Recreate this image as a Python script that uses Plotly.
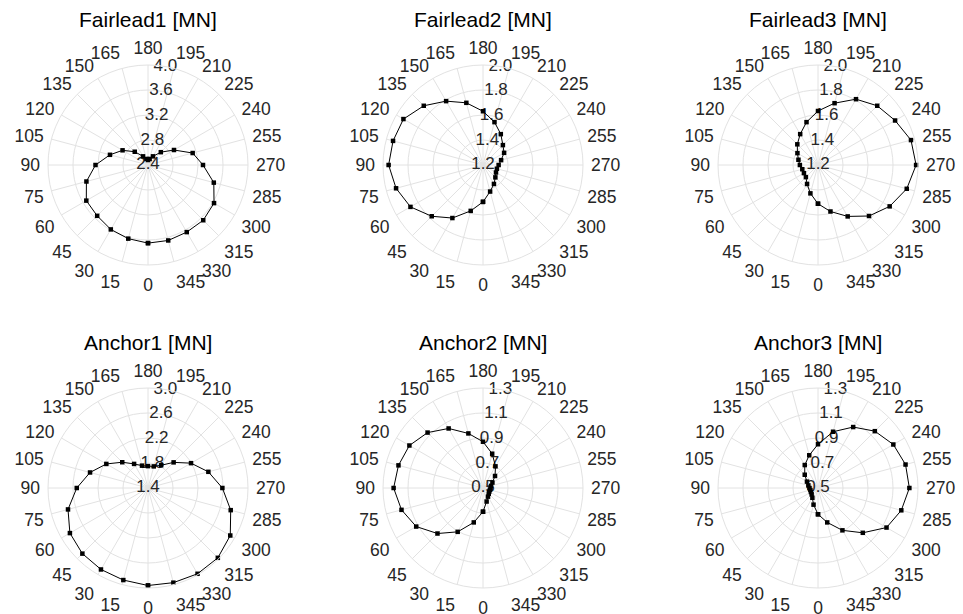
import plotly.graph_objects as go

# Wave heading [deg] at which each tension was evaluated
headings = [0, 15, 30, 45, 60, 75, 90, 105, 120, 135, 150, 165,
            180, 195, 210, 225, 240, 255, 270, 285, 300, 315, 330, 345]

# Maximum line tensions [MN] per heading
fairlead1 = [3.65, 3.62, 3.59, 3.55, 3.54, 3.42, 3.24, 3.03, 2.87, 2.70, 2.56, 2.50,
             2.48, 2.50, 2.56, 2.69, 2.88, 3.14, 3.28, 3.49, 3.62, 3.65, 3.64, 3.65]
fairlead2 = [1.495, 1.58, 1.69, 1.78, 1.87, 1.92, 1.955, 1.945, 1.935, 1.87, 1.79, 1.715,
             1.63, 1.555, 1.485, 1.425, 1.395, 1.35, 1.325, 1.315, 1.32, 1.34, 1.375, 1.42]
fairlead3 = [1.51, 1.435, 1.375, 1.337, 1.33, 1.33, 1.345, 1.362, 1.39, 1.434, 1.485, 1.555,
             1.632, 1.712, 1.808, 1.87, 1.912, 1.97, 1.985, 1.935, 1.862, 1.777, 1.675, 1.585]
anchor1 = [2.96, 2.925, 2.905, 2.885, 2.843, 2.725, 2.54, 2.36, 2.17, 1.983, 1.845, 1.77,
           1.75, 1.758, 1.82, 1.98, 2.195, 2.40, 2.59, 2.77, 2.92, 2.98, 2.985, 2.968]
anchor2 = [0.69, 0.785, 0.905, 1.015, 1.117, 1.175, 1.215, 1.20, 1.18, 1.127, 1.05, 0.952,
           0.87, 0.784, 0.70, 0.636, 0.587, 0.567, 0.56, 0.557, 0.558, 0.565, 0.58, 0.612]
anchor3 = [0.71, 0.638, 0.59, 0.572, 0.565, 0.563, 0.568, 0.58, 0.602, 0.65, 0.712, 0.771,
           0.85, 0.966, 1.063, 1.143, 1.196, 1.225, 1.231, 1.19, 1.133, 1.007, 0.891, 0.785]

# Radial tick values per panel
fairlead1_ticks = [2.4, 2.8, 3.2, 3.6, 4.0]
fairlead2_ticks = [1.2, 1.4, 1.6, 1.8, 2.0]
fairlead3_ticks = [1.2, 1.4, 1.6, 1.8, 2.0]
anchor1_ticks = [1.4, 1.8, 2.2, 2.6, 3.0]
anchor2_ticks = [0.5, 0.7, 0.9, 1.1, 1.3]
anchor3_ticks = [0.5, 0.7, 0.9, 1.1, 1.3]

titles = ["Fairlead1 [MN]", "Fairlead2 [MN]", "Fairlead3 [MN]",
          "Anchor1 [MN]", "Anchor2 [MN]", "Anchor3 [MN]"]

panels = [
    (fairlead1, fairlead1_ticks), (fairlead2, fairlead2_ticks), (fairlead3, fairlead3_ticks),
    (anchor1, anchor1_ticks), (anchor2, anchor2_ticks), (anchor3, anchor3_ticks),
]

W, H = 963, 614
col_centers = [148, 483, 818]
row_centers = [165, 488]
RADIUS = 100
TITLE_OFFSET = 146        # title sits this far above the polar centre
RLABEL_THETA = 190        # direction along which radial labels are written

FONT = "Liberation Sans, Arial, sans-serif"
TEXT_COLOR = "#262626"
GRID_COLOR = "#e2e2e2"

fig = go.Figure()
layout_polars = {}
annotations = []

for i, ((values, rticks), title) in enumerate(zip(panels, titles)):
    row, col = divmod(i, 3)
    cx, cy = col_centers[col], row_centers[row]
    name = "polar" if i == 0 else f"polar{i + 1}"
    subplot = "polar" if i == 0 else f"polar{i + 1}"

    # radial tick labels, written along a fixed heading
    fig.add_trace(go.Scatterpolar(
        r=rticks, theta=[RLABEL_THETA] * len(rticks),
        text=[f"{v:.1f}" for v in rticks], mode="text",
        textposition="middle center",
        textfont=dict(family=FONT, size=17, color=TEXT_COLOR),
        cliponaxis=False, hoverinfo="skip", showlegend=False,
        subplot=subplot,
    ))

    # tension curve, closed back onto the first heading
    fig.add_trace(go.Scatterpolar(
        r=values + values[:1], theta=headings + headings[:1],
        mode="lines+markers",
        line=dict(color="black", width=1),
        marker=dict(symbol="square", size=4.5, color="black"),
        cliponaxis=False, showlegend=False, subplot=subplot,
    ))

    layout_polars[name] = dict(
        domain=dict(
            x=[(cx - RADIUS) / W, (cx + RADIUS) / W],
            y=[1 - (cy + RADIUS) / H, 1 - (cy - RADIUS) / H],
        ),
        bgcolor="white",
        radialaxis=dict(
            range=[rticks[0], rticks[-1]],
            tickmode="array", tickvals=rticks,
            showticklabels=False, ticks="",
            showline=False, gridcolor=GRID_COLOR, gridwidth=1,
        ),
        angularaxis=dict(
            rotation=-90, direction="clockwise",
            tickmode="array", tickvals=headings,
            ticktext=[str(h) for h in headings],
            ticks="outside", ticklen=4, tickcolor="rgba(0,0,0,0)",
            showline=True, linecolor=GRID_COLOR, linewidth=1,
            gridcolor=GRID_COLOR, gridwidth=1,
            tickfont=dict(family=FONT, size=17.5, color=TEXT_COLOR),
        ),
    )

    annotations.append(dict(
        text=title, x=cx / W, y=1 - (cy - TITLE_OFFSET) / H,
        xref="paper", yref="paper", xanchor="center", yanchor="middle",
        showarrow=False, font=dict(family=FONT, size=21, color="black"),
    ))

fig.update_layout(
    width=W, height=H,
    margin=dict(l=0, r=0, t=0, b=0),
    paper_bgcolor="white", plot_bgcolor="white",
    showlegend=False,
    annotations=annotations,
    **layout_polars,
)

fig.write_html("out.html")
